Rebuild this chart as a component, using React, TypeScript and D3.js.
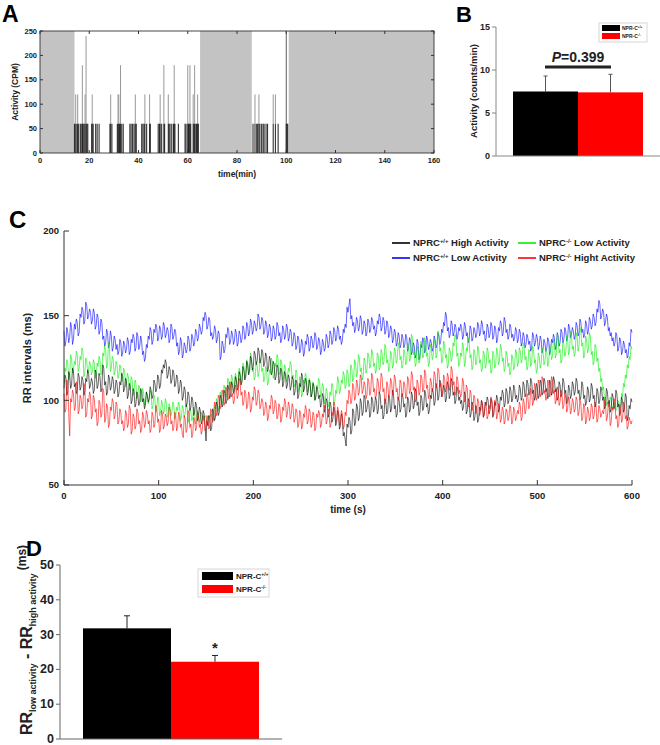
import React from "react";
import * as d3 from "d3";

// ---------- Panel A data ----------
const restPeriods: [number, number][] = [
  [0, 14],
  [65, 86],
  [101, 160],
];
const activityTimes = [
  14.0, 14.5, 15.0, 15.3, 15.7, 16.4, 17.0, 17.2, 17.5, 17.9, 18.3, 18.7, 19.0, 19.4, 21.0, 21.2, 21.6, 22.6, 23.2, 24.0,
  28.4, 28.7, 29.2, 31.4, 31.7, 32.0, 32.3, 32.7, 33.2, 33.8, 36.5, 37.0, 37.6, 38.2, 38.7, 39.1, 41.3, 41.8, 42.3, 42.6,
  43.3, 44.5, 44.8, 48.0, 48.5, 48.8, 49.4, 50.3, 50.6, 52.1, 52.4, 52.8, 53.5, 54.2, 54.5, 54.8, 56.2, 58.9, 59.3, 60.0,
  60.3, 60.6, 60.9, 61.2, 62.2, 62.5, 62.8, 63.3, 63.6, 64.0, 64.3,
  86.5, 87.3, 88.0, 88.4, 88.9, 89.3, 90.0, 90.6, 91.0, 91.8, 92.4, 94.7, 95.6, 96.7, 100.0, 100.3, 100.6,
];
const activityCounts = [
  60, 120, 60, 120, 60, 60, 60, 180, 60, 60, 120, 240, 60, 60, 60, 120, 60, 60, 60, 60,
  60, 120, 60, 60, 120, 120, 60, 180, 60, 60, 60, 60, 60, 60, 120, 60, 60, 60, 60, 120,
  60, 120, 60, 60, 60, 120, 60, 180, 60, 120, 60, 60, 60, 60, 180, 60, 60, 60, 60, 180,
  60, 60, 180, 60, 120, 60, 180, 60, 60, 120, 60,
  60, 120, 60, 60, 120, 60, 60, 60, 60, 60, 60, 120, 120, 60, 60, 60, 60,
];
const aXTicks = [0, 20, 40, 60, 80, 100, 120, 140, 160];
const aYTicks = [0, 50, 100, 150, 200, 250];

// ---------- Panel B data ----------
const genotypes = ["NPR-C+/+", "NPR-C-/-"];
const activityMean = [7.5, 7.4];
const activitySem = [1.8, 2.1];
const bYTicks = [0, 5, 10, 15];
const pValueText = "=0.399";

// ---------- Panel C data (RR intervals, one value per second, 0..600 s) ----------
const rrDuration = 600;
const blueRR = [
  141,132,135,143,140,134,137,146,143,133,136,145,142,148,146,138,140,151,149,155,153,145,147,158,156,148,150,154,152,145,
  147,154,152,142,144,151,149,139,141,148,146,136,138,132,134,142,140,131,133,141,138,129,131,138,136,130,133,127,129,136,
  134,126,128,135,133,128,130,137,135,127,129,136,134,139,137,129,131,140,138,130,132,138,135,127,129,123,125,133,131,138,
  136,143,141,133,135,142,140,145,143,135,137,144,142,136,138,146,144,137,139,143,141,134,136,145,143,136,138,142,140,132,
  134,127,129,137,135,125,127,134,132,128,130,138,136,129,131,139,137,132,134,142,140,135,137,145,143,139,141,149,147,152,
  150,142,144,149,147,138,140,136,138,144,142,134,136,141,139,124,126,135,133,128,130,139,137,143,141,133,135,141,139,133,
  135,142,140,132,134,141,139,134,136,144,142,136,138,146,144,138,140,148,146,139,141,147,145,141,143,151,149,142,144,149,
  147,139,141,147,145,137,139,145,143,135,137,144,142,136,138,146,144,138,140,134,136,144,142,136,138,145,143,135,137,142,
  140,132,134,140,138,130,132,138,136,128,130,136,134,126,128,135,133,139,137,129,131,138,136,131,133,140,138,130,132,137,
  135,127,129,136,134,129,131,139,137,131,133,141,139,133,135,143,141,135,137,144,142,136,138,133,135,142,140,145,143,155,
  152,156,160,148,150,144,146,140,142,149,147,141,143,150,148,139,141,147,145,138,140,148,146,140,142,149,147,142,144,138,
  140,147,145,151,149,141,143,149,147,139,141,147,145,137,139,144,142,134,136,142,140,132,134,140,138,131,133,139,137,131,
  133,139,137,129,131,137,135,127,129,134,132,125,127,136,134,124,126,133,131,137,135,128,130,138,136,130,132,136,134,129,
  131,138,136,131,133,140,138,133,135,142,140,146,144,152,150,141,143,137,139,147,145,138,140,145,143,136,138,143,141,145,
  143,136,138,146,144,138,140,134,136,144,142,135,137,143,141,137,139,146,144,138,140,147,145,139,141,135,137,145,143,137,
  139,146,144,136,138,144,142,134,136,143,141,147,145,138,140,149,147,140,142,136,138,145,143,137,139,135,137,143,141,134,
  136,142,140,132,134,140,138,131,133,139,137,133,135,129,131,140,138,132,134,139,137,130,132,138,136,128,130,136,134,129,
  131,137,135,127,129,136,134,139,137,130,132,140,138,132,134,142,140,134,136,143,141,135,137,145,143,137,139,143,141,136,
  138,146,144,138,140,148,146,140,142,137,139,147,145,139,141,149,147,142,144,151,149,144,146,154,152,159,157,148,150,154,
  152,144,146,151,149,141,143,138,140,135,137,132,134,140,138,129,131,137,135,127,129,135,133,128,130,125,127,134,132,142,
  140,
];
const greenRR = [
  110,119,117,124,122,112,114,127,125,116,118,123,121,129,127,117,119,126,124,131,129,114,116,125,123,116,118,123,121,115,
  117,124,122,113,115,122,120,126,124,115,117,128,126,132,130,119,121,134,132,117,119,126,124,115,117,123,121,113,115,121,
  119,111,113,119,117,108,110,116,114,106,108,114,112,103,105,112,110,101,103,109,107,99,101,107,105,97,99,105,103,98,
  100,106,104,95,97,103,101,93,95,102,100,91,93,100,98,92,94,101,99,90,92,98,96,91,93,99,97,89,91,96,
  94,99,97,88,90,97,95,90,92,98,96,87,89,95,93,88,90,96,94,86,88,94,92,87,89,93,91,88,90,91,
  90,88,89,91,90,92,91,88,89,97,95,101,99,94,96,105,103,98,100,109,107,102,104,113,111,106,108,115,113,105,
  107,116,114,108,110,119,117,110,112,122,120,113,115,124,122,116,118,128,126,117,119,112,114,123,121,114,116,125,123,117,
  119,111,113,120,118,109,111,118,116,125,123,113,115,122,120,127,125,115,117,124,122,112,114,121,119,111,113,119,117,123,
  121,113,115,108,110,118,116,105,107,114,112,102,104,112,110,116,114,105,107,113,111,102,104,111,109,100,102,109,107,113,
  111,102,104,110,108,98,100,107,105,96,98,105,103,110,108,97,99,106,104,114,112,104,106,112,110,117,115,107,109,118,
  116,108,110,121,119,111,113,124,122,114,116,127,125,117,119,112,114,125,123,116,118,128,126,119,121,130,128,120,122,116,
  118,128,126,118,120,130,128,121,123,133,131,122,124,117,119,129,127,119,121,131,129,122,124,134,132,124,126,119,121,130,
  128,121,123,134,132,123,125,139,137,127,129,120,122,132,130,122,124,135,133,125,127,137,135,126,128,120,122,133,131,124,
  126,136,134,125,127,141,139,129,131,122,124,135,133,125,127,119,121,131,129,123,125,134,132,139,137,126,128,120,122,128,
  126,134,132,120,122,131,129,137,135,125,127,118,120,130,128,121,123,132,130,122,124,117,119,129,127,119,121,131,129,122,
  124,116,118,129,127,119,121,131,129,121,123,133,131,123,125,117,119,129,127,120,122,115,117,127,125,118,120,130,128,120,
  122,131,129,122,124,134,132,124,126,118,120,130,128,120,122,132,130,122,124,116,118,128,126,119,121,131,129,121,123,130,
  128,120,122,133,131,124,126,136,134,125,127,139,137,128,130,122,124,135,133,126,128,138,136,127,129,141,139,130,132,126,
  128,140,138,129,131,143,141,132,134,125,127,138,136,128,130,140,138,127,129,121,123,133,131,123,125,117,119,111,113,106,
  108,100,102,97,99,96,97,102,100,95,96,99,98,94,95,100,99,96,97,104,102,110,108,115,113,121,119,126,124,132,
  130,
];
const blackRR = [
  107,115,113,103,105,117,115,107,109,119,117,108,110,104,106,116,114,106,108,114,112,103,105,113,111,118,116,107,109,113,
  111,104,106,118,116,107,109,116,114,105,107,121,119,109,111,103,105,115,113,106,108,114,112,104,106,112,110,102,104,111,
  109,116,114,105,107,113,111,101,103,110,108,98,100,107,105,96,98,105,103,97,99,107,105,99,101,95,97,105,103,99,
  101,108,106,101,103,112,110,105,107,115,113,107,109,118,116,121,119,124,122,113,115,120,118,110,112,118,116,108,110,115,
  113,104,106,112,110,100,102,108,106,96,98,105,103,94,96,102,100,91,93,99,97,88,90,96,94,86,88,94,92,85,
  76,88,85,91,89,82,84,95,93,88,90,99,97,91,93,103,101,96,98,106,104,98,100,109,107,101,103,111,109,104,
  106,114,112,106,108,117,115,109,111,120,118,112,114,123,121,115,117,126,124,118,120,129,127,121,123,131,129,122,124,130,
  128,120,122,128,126,117,119,126,124,115,117,123,121,112,114,121,119,110,112,119,117,108,110,117,115,107,109,115,113,106,
  108,114,112,103,105,112,110,101,103,110,108,116,114,105,107,113,111,103,105,112,110,102,104,110,108,100,102,108,106,101,
  103,96,98,104,102,93,95,101,99,90,92,99,97,87,89,96,94,85,87,94,92,83,85,92,90,79,81,77,73,86,
  84,90,88,80,82,95,93,85,87,98,96,88,90,101,99,91,93,103,101,93,95,100,98,90,92,102,100,93,95,102,
  100,92,94,105,103,95,97,89,91,101,99,92,94,103,101,93,95,106,104,95,97,90,92,102,100,93,95,104,102,96,
  98,90,92,102,100,93,95,105,103,95,97,107,105,97,99,91,93,103,101,94,96,106,104,96,98,92,94,103,101,107,
  105,97,99,110,108,100,102,112,110,102,104,109,107,99,101,111,109,101,103,113,111,103,105,98,100,108,106,100,102,98,
  100,94,96,105,103,92,94,101,99,90,92,99,97,88,90,97,95,87,89,96,94,100,98,90,92,99,97,102,100,92,
  94,101,99,90,92,99,97,103,101,93,95,102,100,106,104,96,98,107,105,98,100,108,106,99,101,109,107,101,103,99,
  101,109,107,100,102,111,109,102,104,112,110,103,105,113,111,104,106,100,102,110,108,101,103,112,110,103,105,113,111,105,
  107,101,103,112,110,103,105,114,112,105,107,100,102,111,109,102,104,113,111,104,106,98,100,109,107,101,103,111,109,103,
  105,113,111,104,106,100,102,111,109,101,103,97,99,108,106,99,101,110,108,101,103,96,98,107,105,98,100,108,106,100,
  102,95,97,107,105,98,100,93,95,104,102,95,97,106,104,96,98,91,93,102,100,93,95,104,102,88,90,97,95,101,
  99,
];
const redRR = [
  104,93,95,112,110,92,79,101,99,106,104,94,96,111,109,92,94,103,101,95,97,110,108,90,92,101,99,105,103,89,
  91,103,101,93,95,85,87,100,98,90,92,107,105,87,89,98,96,84,86,96,94,101,99,89,91,99,97,86,88,95,
  93,86,88,82,84,94,92,84,86,97,95,80,82,92,90,83,85,95,93,86,88,81,83,93,91,84,86,94,92,86,
  88,81,83,93,91,84,86,97,95,87,89,81,83,94,92,83,85,92,90,85,87,96,94,86,88,82,84,93,91,82,
  84,93,91,84,86,80,78,91,89,81,83,94,92,84,86,78,80,90,88,82,84,93,91,84,86,80,82,91,89,82,
  84,91,89,83,85,95,93,87,89,99,97,91,93,103,101,95,97,106,104,97,99,108,106,100,102,111,109,102,104,98,
  100,109,107,101,103,113,111,103,105,97,99,106,104,95,97,105,103,93,95,102,100,108,106,97,99,106,104,95,97,101,
  99,91,93,99,97,88,90,97,95,103,101,92,94,100,98,89,91,98,96,87,89,96,94,101,99,90,92,99,97,89,
  91,98,96,87,89,95,93,84,86,94,92,83,85,92,90,97,95,86,88,95,93,84,86,93,91,82,84,92,90,94,
  92,84,86,92,90,97,95,86,88,95,93,84,86,93,91,99,97,87,89,96,94,85,87,94,92,83,85,93,91,100,
  98,106,104,98,100,110,108,100,102,112,110,103,105,115,113,104,106,111,109,101,103,113,111,103,105,116,114,105,107,101,
  103,113,111,104,106,116,114,105,107,98,100,111,109,102,104,113,111,103,105,115,113,105,107,100,102,112,110,102,104,111,
  109,101,103,114,112,104,106,117,115,106,108,99,101,112,110,103,105,115,113,105,107,118,116,107,109,101,103,113,111,105,
  107,117,115,107,109,119,117,108,110,102,104,115,113,105,107,116,114,106,108,120,118,109,111,103,105,114,112,104,106,102,
  104,113,111,99,101,109,107,96,98,106,104,94,96,103,101,92,94,101,99,91,93,100,98,90,92,99,97,89,91,97,
  95,102,100,91,93,100,98,89,91,98,96,87,89,96,94,86,88,95,93,88,90,97,95,86,88,96,94,88,90,94,
  92,99,97,88,90,101,99,92,94,104,102,95,97,107,105,97,99,110,108,100,102,112,110,102,104,114,112,104,106,100,
  102,112,110,102,104,114,112,104,106,98,100,108,106,97,99,106,104,95,97,104,102,93,95,102,100,92,94,101,99,93,
  95,102,100,91,93,100,98,88,90,98,96,86,88,96,94,88,90,98,96,89,91,99,97,87,89,97,95,90,92,94,
  92,100,98,88,90,98,96,85,87,96,94,101,99,89,91,84,86,97,95,87,89,99,97,89,91,83,85,90,88,86,
  88,
];
const cXTicks = [0, 100, 200, 300, 400, 500, 600];
const cYTicks = [50, 100, 150, 200];

// ---------- Panel D data ----------
const rrDiffMean = [31.8, 22.2];
const rrDiffSem = [3.6, 1.8];
const dYTicks = [0, 10, 20, 30, 40, 50];

const FONT = "'Liberation Sans', Arial, sans-serif";
const barColors = ["#000000", "#ff0000"];

function Sup({ base, sup, size }: { base: string; sup: string; size: number }) {
  return (
    <>
      <tspan>{base}</tspan>
      <tspan fontSize={size * 0.62} dy={-size * 0.38}>
        {sup}
      </tspan>
    </>
  );
}

function PanelA() {
  const x = d3.scaleLinear().domain([0, 160]).range([40, 434]);
  const y = d3.scaleLinear().domain([0, 250]).range([153, 31]);
  const [x0, x1] = x.range();
  const [y0, y1] = y.range();
  return (
    <g fontFamily={FONT} fontWeight="bold">
      {restPeriods.map(([a, b], i) => (
        <rect key={i} x={x(a)} y={y1} width={x(b) - x(a)} height={y0 - y1} fill="#c3c3c3" />
      ))}
      {activityTimes.map((t, i) => {
        const v = activityCounts[i];
        return (
          <g key={i}>
            {v > 60 && <line x1={x(t)} x2={x(t)} y1={y(60)} y2={y(v)} stroke="#8c8c8c" strokeWidth={0.9} />}
            <line x1={x(t)} x2={x(t)} y1={y(0)} y2={y(Math.min(v, 60))} stroke="#111" strokeWidth={1.1} opacity={0.85} />
          </g>
        );
      })}
      <line x1={x(100)} x2={x(100)} y1={y0} y2={y1} stroke="#333" strokeWidth={0.8} />
      <rect x={x0} y={y1} width={x1 - x0} height={y0 - y1} fill="none" stroke="#333" strokeWidth={0.9} />
      {aXTicks.map((t) => (
        <g key={t}>
          <line x1={x(t)} x2={x(t)} y1={y0} y2={y0 - 3} stroke="#333" />
          <line x1={x(t)} x2={x(t)} y1={y1} y2={y1 + 3} stroke="#333" />
          <text x={x(t)} y={y0 + 10} fontSize={7.5} textAnchor="middle" fill="#222">
            {t}
          </text>
        </g>
      ))}
      {aYTicks.map((t) => (
        <g key={t}>
          <line x1={x0} x2={x0 + 3} y1={y(t)} y2={y(t)} stroke="#333" />
          <line x1={x1} x2={x1 - 3} y1={y(t)} y2={y(t)} stroke="#333" />
          <text x={x0 - 3} y={y(t)} dy="0.35em" fontSize={7.5} textAnchor="end" fill="#222">
            {t}
          </text>
        </g>
      ))}
      <text x={(x0 + x1) / 2} y={177} fontSize={8.5} textAnchor="middle" fill="#222">
        time(min)
      </text>
      <text transform={`translate(18,${(y0 + y1) / 2}) rotate(-90)`} fontSize={8.5} textAnchor="middle" fill="#222">
        Activity (CPM)
      </text>
      <text x={2} y={22} fontSize={23} fill="#000">
        A
      </text>
    </g>
  );
}

function PanelB() {
  const x = d3.scaleBand().domain(genotypes).range([513, 643]).padding(0);
  const y = d3.scaleLinear().domain([0, 15]).range([156, 27]);
  const axisX = 496;
  return (
    <g fontFamily={FONT} fontWeight="bold">
      {genotypes.map((g, i) => {
        const cx = (x(g) as number) + x.bandwidth() / 2;
        return (
          <g key={g}>
            <line x1={cx} x2={cx} y1={y(activityMean[i])} y2={y(activityMean[i] + activitySem[i])} stroke="#555" strokeWidth={1} />
            <line x1={cx - 2} x2={cx + 2} y1={y(activityMean[i] + activitySem[i])} y2={y(activityMean[i] + activitySem[i])} stroke="#555" strokeWidth={1} />
            <rect x={x(g)} y={y(activityMean[i])} width={x.bandwidth()} height={y(0) - y(activityMean[i])} fill={barColors[i]} />
          </g>
        );
      })}
      <line x1={axisX} x2={axisX} y1={y(15)} y2={y(0)} stroke="#888" strokeWidth={1} />
      <line x1={axisX} x2={660} y1={y(0)} y2={y(0)} stroke="#888" strokeWidth={1} />
      {bYTicks.map((t) => (
        <g key={t}>
          <line x1={axisX - 4} x2={axisX} y1={y(t)} y2={y(t)} stroke="#888" />
          <text x={axisX - 6} y={y(t)} dy="0.35em" fontSize={9} textAnchor="end" fill="#222">
            {t}
          </text>
        </g>
      ))}
      <line x1={545} x2={611} y1={67} y2={67} stroke="#222" strokeWidth={3} />
      <text x={578} y={62} fontSize={14} textAnchor="middle" fill="#222">
        <tspan fontStyle="italic">P</tspan>
        <tspan>{pValueText}</tspan>
      </text>
      <text transform={`translate(477,${91}) rotate(-90)`} fontSize={9.5} textAnchor="middle" fill="#222">
        Activity (counts/min)
      </text>
      <rect x={599} y={23} width={48} height={19} fill="#fff" stroke="#bbb" strokeWidth={0.6} />
      {genotypes.map((g, i) => (
        <g key={g}>
          <rect x={602} y={25 + i * 8} width={18} height={6} fill={barColors[i]} />
          <text x={622} y={28 + i * 8} dy="0.35em" fontSize={5} fill="#222">
            <Sup base="NPR-C" sup={g.slice(5)} size={5} />
          </text>
        </g>
      ))}
      <text x={456} y={22} fontSize={22} fill="#000">
        B
      </text>
    </g>
  );
}

function PanelC() {
  const x = d3.scaleLinear().domain([0, 600]).range([64, 632]);
  const y = d3.scaleLinear().domain([50, 200]).range([485, 231]);
  const makeLine = (n: number) =>
    d3
      .line<number>()
      .x((_, i) => x((i * rrDuration) / (n - 1)))
      .y((d) => y(d));
  const series = [
    { data: blueRR, color: "#0000ff", label: "Low Activity", g: "+/+" },
    { data: greenRR, color: "#00ee00", label: "Low Activity", g: "-/-" },
    { data: blackRR, color: "#000000", label: "High Activity", g: "+/+" },
    { data: redRR, color: "#ff0000", label: "Hight Activity", g: "-/-" },
  ];
  const legendPos = [
    { s: 2, lx: 392, ly: 243 },
    { s: 1, lx: 518, ly: 243 },
    { s: 0, lx: 392, ly: 258 },
    { s: 3, lx: 518, ly: 258 },
  ];
  return (
    <g fontFamily={FONT} fontWeight="bold">
      {series.map((s, i) => (
        <path
          key={i}
          d={makeLine(s.data.length)(s.data) as string}
          fill="none"
          stroke={s.color}
          strokeWidth={0.7}
          strokeOpacity={0.85}
          strokeLinejoin="round"
        />
      ))}
      <line x1={64} x2={64} y1={y(200)} y2={y(50)} stroke="#333" strokeWidth={1} />
      <line x1={64} x2={632} y1={y(50)} y2={y(50)} stroke="#333" strokeWidth={1} />
      {cXTicks.map((t) => (
        <g key={t}>
          <line x1={x(t)} x2={x(t)} y1={y(50)} y2={y(50) - 5} stroke="#333" />
          <text x={x(t)} y={y(50) + 14} fontSize={9.5} textAnchor="middle" fill="#222">
            {t}
          </text>
        </g>
      ))}
      {cYTicks.map((t) => (
        <g key={t}>
          <line x1={64} x2={69} y1={y(t)} y2={y(t)} stroke="#333" />
          <text x={59} y={y(t)} dy="0.35em" fontSize={9.5} textAnchor="end" fill="#222">
            {t}
          </text>
        </g>
      ))}
      <text x={348} y={513} fontSize={10} textAnchor="middle" fill="#222">
        time (s)
      </text>
      <text transform={`translate(31,358) rotate(-90)`} fontSize={11} textAnchor="middle" fill="#222">
        RR intervals (ms)
      </text>
      {legendPos.map(({ s, lx, ly }) => (
        <g key={s}>
          <line x1={lx} x2={lx + 18} y1={ly} y2={ly} stroke={series[s].color} strokeWidth={1.6} />
          <text x={lx + 21} y={ly} dy="0.35em" fontSize={9.5} fill="#222">
            <Sup base="NPRC" sup={series[s].g} size={9.5} />
            <tspan dy={9.5 * 0.38}>{" " + series[s].label}</tspan>
          </text>
        </g>
      ))}
      <text x={9} y={228} fontSize={24} fill="#000">
        C
      </text>
    </g>
  );
}

function PanelD() {
  const x = d3.scaleBand().domain(genotypes).range([83, 259]).padding(0);
  const y = d3.scaleLinear().domain([0, 50]).range([739, 565]);
  const axisX = 60;
  return (
    <g fontFamily={FONT} fontWeight="bold">
      {genotypes.map((g, i) => {
        const cx = (x(g) as number) + x.bandwidth() / 2;
        const top = y(rrDiffMean[i] + rrDiffSem[i]);
        return (
          <g key={g}>
            <line x1={cx} x2={cx} y1={y(rrDiffMean[i])} y2={top} stroke="#222" strokeWidth={1} />
            <line x1={cx - 3} x2={cx + 3} y1={top} y2={top} stroke="#222" strokeWidth={1} />
            <rect x={x(g)} y={y(rrDiffMean[i])} width={x.bandwidth()} height={y(0) - y(rrDiffMean[i])} fill={barColors[i]} />
          </g>
        );
      })}
      <text
        x={(x(genotypes[1]) as number) + x.bandwidth() / 2}
        y={y(rrDiffMean[1] + rrDiffSem[1]) - 2}
        fontSize={15}
        textAnchor="middle"
        fill="#222"
      >
        *
      </text>
      <line x1={axisX} x2={axisX} y1={y(50)} y2={y(0)} stroke="#666" strokeWidth={1} />
      <line x1={axisX} x2={282} y1={y(0)} y2={y(0)} stroke="#666" strokeWidth={1} />
      {dYTicks.map((t) => (
        <g key={t}>
          <line x1={axisX - 4} x2={axisX} y1={y(t)} y2={y(t)} stroke="#666" />
          <text x={axisX - 6} y={y(t)} dy="0.32em" fontSize={12.5} textAnchor="end" fill="#222">
            {t}
          </text>
        </g>
      ))}
      <text transform={`translate(32,640) rotate(-90)`} fontSize={16} textAnchor="middle" fill="#222">
        <tspan>RR</tspan>
        <tspan fontSize={9} dy={4}>low activity</tspan>
        <tspan dy={-4}> - RR</tspan>
        <tspan fontSize={9} dy={4}>high activity</tspan>
        <tspan fontSize={12} dy={-10}> (ms)</tspan>
      </text>
      <rect x={198} y={569} width={71} height={28} fill="#fff" stroke="#ccc" strokeWidth={0.8} />
      {genotypes.map((g, i) => (
        <g key={g}>
          <rect x={202} y={572 + i * 13} width={31} height={8} fill={barColors[i]} />
          <text x={236} y={576 + i * 13} dy="0.35em" fontSize={8} fill="#222">
            <Sup base="NPR-C" sup={g.slice(5)} size={8} />
          </text>
        </g>
      ))}
      <text x={26} y={556} fontSize={22} fill="#000">
        D
      </text>
    </g>
  );
}

export default function App() {
  return (
    <svg
      width={660}
      height={745}
      viewBox="0 0 660 745"
      style={{ position: "absolute", left: 0, top: 0, background: "#fff" }}
    >
      <rect width={660} height={745} fill="#fff" />
      <PanelA />
      <PanelB />
      <PanelC />
      <PanelD />
    </svg>
  );
}
